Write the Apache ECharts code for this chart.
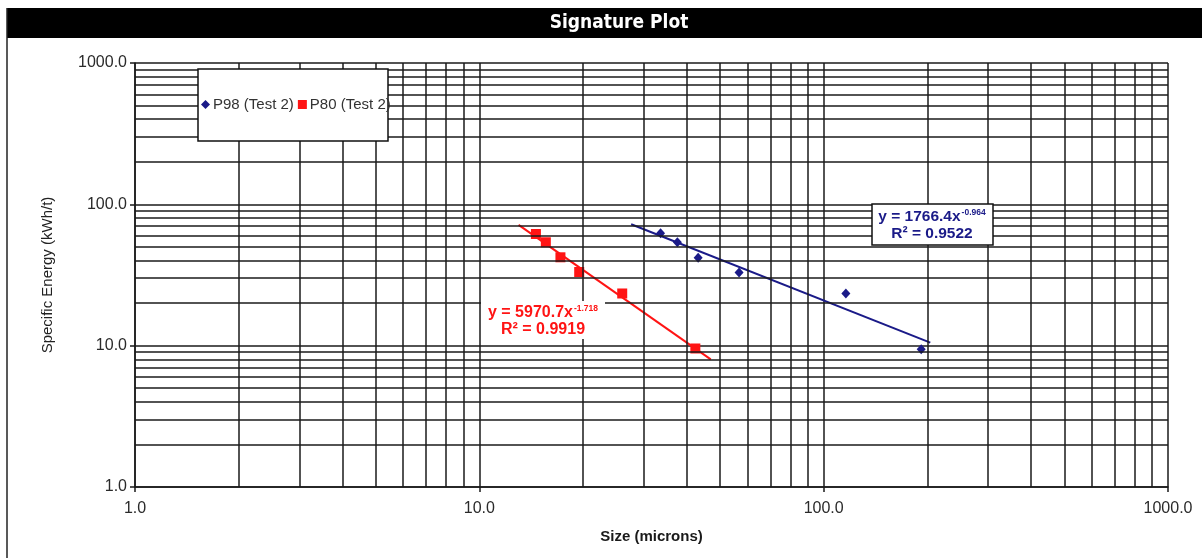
<!DOCTYPE html>
<html>
<head>
<meta charset="utf-8">
<script src="https://cdn.jsdelivr.net/npm/echarts@6/dist/echarts.min.js"></script>
<style>
html,body{margin:0;padding:0;background:#fff;}
#chart{width:1202px;height:558px;}
</style>
</head>
<body>
<div id="chart"></div>
<script>
// ---- data ----
const sizeP98   = [33.6, 37.6, 43.2, 56.8, 116, 192];
const energyP98 = [62.4, 53.9, 41.9, 32.9, 23.4, 9.45];
const sizeP80   = [14.6, 15.6, 17.2, 19.5, 26.0, 42.4];
const energyP80 = [61.7, 53.9, 42.2, 33.2, 23.4, 9.55];
// trendline end points (as drawn)
const trendP98X = [27.6, 204];
const trendP98Y = [72.3, 10.5];
const trendP80X = [13.0, 47.0];
const trendP80Y = [71.5, 8.0];
// minor grid values (log decades)
const minorValues = [2,3,4,5,6,7,8,9,20,30,40,50,60,70,80,90,200,300,400,500,600,700,800,900];
const seriesNames = ['P98 (Test 2)', 'P80 (Test 2)'];

const pts = (xs, ys) => xs.map((x, i) => [x, ys[i]]);
const GRIDCOL = '#1a1a1a';
const NAVY = '#1a1a88';
const RED = '#ff1414';
const FONT = 'Liberation Sans, Arial, sans-serif';

const gridLines = [];
minorValues.forEach(v => { gridLines.push({xAxis: v}); gridLines.push({yAxis: v}); });

function eqRich(color, size) {
  return {
    a: {fontFamily: FONT, fontSize: size, fontWeight: 'bold', fill: color, lineHeight: 17},
    s: {fontFamily: FONT, fontSize: 8.5, fontWeight: 'bold', fill: color, verticalAlign: 'top', lineHeight: 17, padding: [0,0,0,1]}
  };
}

const chart = echarts.init(document.getElementById('chart'), null, {renderer: 'canvas'});
chart.setOption({
  animation: false,
  backgroundColor: '#fff',
  grid: {left: 135, right: 34, top: 63, bottom: 71, containLabel: false},
  xAxis: {
    type: 'log', logBase: 10, min: 1, max: 1000,
    name: 'Size (microns)', nameLocation: 'middle', nameGap: 42,
    nameTextStyle: {fontFamily: FONT, fontSize: 15, fontWeight: 'bold', color: '#1a1a1a'},
    axisLine: {show: true, lineStyle: {color: GRIDCOL, width: 1.5}},
    axisTick: {show: true, length: 5, lineStyle: {color: GRIDCOL, width: 1.5}},
    axisLabel: {fontFamily: FONT, fontSize: 16, color: '#2a2a2a', margin: 14,
      formatter: v => Number(v).toFixed(1)},
    splitLine: {show: true, lineStyle: {color: GRIDCOL, width: 1.5}},
    minorTick: {show: false}, minorSplitLine: {show: false}
  },
  yAxis: {
    type: 'log', logBase: 10, min: 1, max: 1000,
    name: 'Specific Energy (kWh/t)', nameLocation: 'middle', nameGap: 80,
    nameTextStyle: {fontFamily: FONT, fontSize: 15, color: '#222'},
    axisLine: {show: true, lineStyle: {color: GRIDCOL, width: 1.5}},
    axisTick: {show: true, length: 5, lineStyle: {color: GRIDCOL, width: 1.5}},
    axisLabel: {fontFamily: FONT, fontSize: 16, color: '#2a2a2a', margin: 8,
      formatter: v => Number(v).toFixed(1)},
    splitLine: {show: true, lineStyle: {color: GRIDCOL, width: 1.5}},
    minorTick: {show: false}, minorSplitLine: {show: false}
  },
  legend: {
    data: [
      {name: seriesNames[0], icon: 'diamond'},
      {name: seriesNames[1], icon: 'rect'}
    ],
    left: 201, top: 97, padding: 0, itemGap: 4, itemWidth: 9, itemHeight: 9,
    textStyle: {fontFamily: FONT, fontSize: 15, color: '#333', padding: [0,0,0,-2]},
    z: 20
  },
  graphic: [
    {type: 'rect', shape: {x: 7, y: 8, width: 1195, height: 30}, style: {fill: '#000'}, z: 100},
    {type: 'line', shape: {x1: 7, y1: 8, x2: 7, y2: 558}, style: {stroke: '#222', lineWidth: 1.5}, z: 100},
    {type: 'text', x: 619, y: 23, z: 101,
      style: {text: 'Signature Plot', fill: '#fff', font: 'bold 19px "DejaVu Sans Condensed", "DejaVu Sans", sans-serif',
        textAlign: 'center', textVerticalAlign: 'middle'}},
    // legend frame
    {type: 'rect', shape: {x: 198, y: 69, width: 190, height: 72}, style: {fill: '#fff', stroke: '#111', lineWidth: 1.5}, z: 10},
    // P80 trend label (white background, no border)
    {type: 'rect', shape: {x: 481, y: 301, width: 124, height: 38}, style: {fill: '#fff'}, z: 10},
    {type: 'text', x: 543, y: 321, z: 11,
      style: {text: '{a|y = 5970.7x}{s|-1.718}\n{a|R² = 0.9919}', rich: eqRich(RED, 16), fill: RED,
        textAlign: 'center', textVerticalAlign: 'middle'}},
    // P98 trend label (boxed)
    {type: 'rect', shape: {x: 872, y: 204, width: 121, height: 41}, style: {fill: '#fff', stroke: '#111', lineWidth: 1.5}, z: 10},
    {type: 'text', x: 932, y: 225, z: 11,
      style: {text: '{a|y = 1766.4x}{s|-0.964}\n{a|R² = 0.9522}', rich: eqRich(NAVY, 15.5), fill: NAVY,
        textAlign: 'center', textVerticalAlign: 'middle'}}
  ],
  series: [
    {
      name: 'grid', type: 'line', data: [[1, 1]], showSymbol: false, symbol: 'none',
      lineStyle: {opacity: 0}, silent: true, z: 1, legendHoverLink: false,
      markLine: {
        silent: true, symbol: ['none', 'none'], label: {show: false},
        lineStyle: {color: GRIDCOL, width: 1.5, type: 'solid'},
        emphasis: {disabled: true},
        data: gridLines
      }
    },
    {
      name: 'trend98', type: 'line', data: pts(trendP98X, trendP98Y), symbol: 'none',
      lineStyle: {color: NAVY, width: 2}, z: 3, silent: true
    },
    {
      name: 'trend80', type: 'line', data: pts(trendP80X, trendP80Y), symbol: 'none',
      lineStyle: {color: RED, width: 2}, z: 3, silent: true
    },
    {
      name: seriesNames[0], type: 'scatter', data: pts(sizeP98, energyP98),
      symbol: 'diamond', symbolSize: [9, 10], itemStyle: {color: NAVY, opacity: 1}, z: 4
    },
    {
      name: seriesNames[1], type: 'scatter', data: pts(sizeP80, energyP80),
      symbol: 'rect', symbolSize: 10, itemStyle: {color: RED, opacity: 1}, z: 4
    }
  ]
});
</script>
</body>
</html>
